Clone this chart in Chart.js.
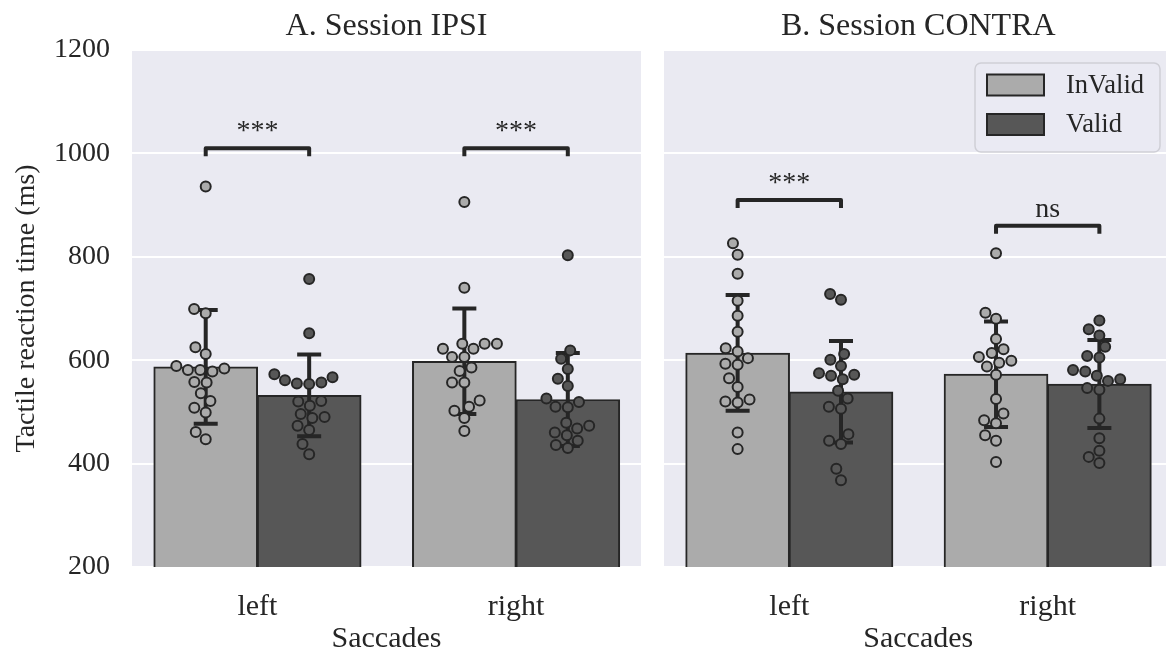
<!DOCTYPE html>
<html>
<head>
<meta charset="utf-8">
<title>Tactile reaction time</title>
<script src="https://cdn.jsdelivr.net/npm/chart.js@4.4.1/dist/chart.umd.min.js"></script>
<style>
    html, body { margin: 0; padding: 0; background: #fff; overflow: hidden; width: 1166px; height: 657px; }
    #wrapIpsi   { position: absolute; left: 0;     top: 0; width: 650px; height: 657px; }
    #wrapContra { position: absolute; left: 655px; top: 0; width: 525px; height: 657px; }
</style>
</head>
<body>
<div id="wrapIpsi"><canvas id="ipsiChart" width="650" height="657"></canvas></div>
<div id="wrapContra"><canvas id="contraChart" width="525" height="657"></canvas></div>
<script>
// ---- data ----
const categories = ['left', 'right'];
const hueNames   = ['InValid', 'Valid'];
const yTicks     = [200, 400, 600, 800, 1000, 1200];

// Session IPSI: bar means and SD per saccade side
const ipsiMeanInvalid = [587, 598];
const ipsiMeanValid   = [532, 524];
const ipsiSdInvalid   = [110, 102];
const ipsiSdValid     = [79, 90];

// individual subjects
const ipsiLeftInvalid  = [936, 699, 691, 625, 612, 589, 581, 578, 581, 584, 558, 557, 536, 521, 508, 499, 461, 447];
const ipsiLeftValid    = [757, 652, 573, 561, 555, 554, 557, 567, 520, 512, 521, 496, 488, 490, 473, 465, 438, 418];
const ipsiRightInvalid = [906, 740, 632, 632, 632, 622, 622, 606, 606, 579, 586, 557, 557, 522, 502, 510, 488, 463];
const ipsiRightValid   = [803, 619, 603, 583, 564, 550, 526, 510, 509, 519, 479, 468, 473, 460, 455, 444, 436, 430];

// Session CONTRA
const contraMeanInvalid = [614, 573];
const contraMeanValid   = [539, 554];
const contraSdInvalid   = [112, 102];
const contraSdValid     = [98, 85];

const contraLeftInvalid  = [826, 804, 767, 715, 686, 655, 623, 617, 604, 593, 591, 565, 548, 520, 518, 524, 460, 428];
const contraLeftValid    = [728, 717, 612, 601, 589, 570, 563, 572, 575, 541, 526, 510, 506, 457, 444, 438, 390, 368];
const contraRightInvalid = [807, 692, 680, 641, 621, 614, 606, 599, 595, 588, 572, 525, 497, 484, 478, 455, 444, 403];
const contraRightValid   = [677, 660, 648, 626, 608, 605, 581, 570, 563, 560, 546, 543, 578, 487, 449, 425, 413, 401];

// significance brackets: category, bracket height (ms), label
const ipsiSigCat     = [0, 1];
const ipsiSigY       = [1010, 1010];
const ipsiSigLabel   = ['***', '***'];
const contraSigCat   = [0, 1];
const contraSigY     = [910, 860];
const contraSigLabel = ['***', 'ns'];

// ---- styles ----
const FONT   = "'Liberation Serif', 'Times New Roman', serif";
const INK    = '#262626';
const BG     = '#eaeaf2';
const hueFill   = ['#ababab', '#575757'];
const hueOffset = [-0.2, 0.2];
const X_MIN = -0.485, X_MAX = 1.483;

// panel background (seaborn darkgrid)
const panelBg = {
    id: 'panelBg',
    beforeDraw(chart) {
        const { ctx, chartArea: a } = chart;
        ctx.save();
        ctx.fillStyle = BG;
        ctx.fillRect(a.left, a.top, a.right - a.left, a.bottom - a.top);
        ctx.restore();
    }
};

// error bars go between bars and dots
const errorBars = {
    id: 'errorBars',
    beforeDatasetsDraw(chart) { chart.$errDone = false; },
    beforeDatasetDraw(chart, args) {
        if (chart.$errDone || args.meta.type !== 'scatter') return;
        chart.$errDone = true;
        const p = chart.options.plugins.errorBars;
        const { ctx, scales: { x, y } } = chart;
        ctx.save();
        ctx.strokeStyle = INK;
        ctx.lineWidth = 4;
        p.means.forEach((means, h) => {
            means.forEach((m, c) => {
                const px = x.getPixelForValue(c + hueOffset[h]);
                const top = y.getPixelForValue(m + p.sds[h][c]);
                const bot = y.getPixelForValue(m - p.sds[h][c]);
                ctx.beginPath();
                ctx.moveTo(px, top); ctx.lineTo(px, bot);
                ctx.moveTo(px - 12, top); ctx.lineTo(px + 12, top);
                ctx.moveTo(px - 12, bot); ctx.lineTo(px + 12, bot);
                ctx.stroke();
            });
        });
        ctx.restore();
    }
};

const sigBrackets = {
    id: 'sigBrackets',
    afterDatasetsDraw(chart) {
        const p = chart.options.plugins.sigBrackets;
        const { ctx, scales: { x, y } } = chart;
        ctx.save();
        ctx.strokeStyle = INK;
        ctx.fillStyle = INK;
        ctx.lineWidth = 4;
        ctx.lineJoin = 'round';
        ctx.font = '28px ' + FONT;
        ctx.textAlign = 'center';
        ctx.textBaseline = 'alphabetic';
        p.cats.forEach((c, i) => {
            const x0 = x.getPixelForValue(c + hueOffset[0]);
            const x1 = x.getPixelForValue(c + hueOffset[1]);
            const yy = y.getPixelForValue(p.ys[i]);
            ctx.beginPath();
            ctx.moveTo(x0, yy + 8); ctx.lineTo(x0, yy); ctx.lineTo(x1, yy); ctx.lineTo(x1, yy + 8);
            ctx.stroke();
            ctx.fillText(p.labels[i], (x0 + x1) / 2, yy - 9);
        });
        ctx.restore();
    }
};

const panelTitle = {
    id: 'panelTitle',
    afterDraw(chart) {
        const { ctx, chartArea: a } = chart;
        ctx.save();
        ctx.fillStyle = INK;
        ctx.font = '32px ' + FONT;
        ctx.textAlign = 'center';
        ctx.textBaseline = 'alphabetic';
        ctx.fillText(chart.options.plugins.panelTitle.text, (a.left + a.right) / 2, 35);
        ctx.restore();
    }
};

const boxLegend = {
    id: 'boxLegend',
    afterDraw(chart) {
        if (!chart.options.plugins.boxLegend.show) return;
        const { ctx, chartArea: a } = chart;
        const w = 185, h = 89;
        const bx = a.right - 12.5 - w, by = a.top + 13;
        ctx.save();
        ctx.beginPath();
        ctx.roundRect(bx, by, w, h, 6);
        ctx.fillStyle = 'rgba(234,234,242,0.8)';
        ctx.fill();
        ctx.strokeStyle = '#cfcfd6';
        ctx.lineWidth = 1.5;
        ctx.stroke();
        ctx.font = '26.5px ' + FONT;
        ctx.textBaseline = 'middle';
        ctx.textAlign = 'left';
        hueNames.forEach((name, i) => {
            const cy = by + 22 + i * 39.5;
            ctx.fillStyle = hueFill[i];
            ctx.fillRect(bx + 12, cy - 10.5, 57, 21);
            ctx.strokeStyle = INK;
            ctx.lineWidth = 2;
            ctx.strokeRect(bx + 12, cy - 10.5, 57, 21);
            ctx.fillStyle = INK;
            ctx.fillText(name, bx + 91, cy + 1);
        });
        ctx.restore();
    }
};

// seaborn-like beeswarm: place from the lowest value up, nearest free slot to the midline
function swarmOffsets(pixYs, d) {
    const order = pixYs.map((_, i) => i).sort((a, b) => pixYs[b] - pixYs[a]);
    const placed = [];
    const out = new Array(pixYs.length).fill(0);
    order.forEach(idx => {
        const yy = pixYs[idx];
        const nb = placed.filter(p => Math.abs(p.y - yy) < d);
        const cands = [0];
        nb.forEach(p => { const dx = Math.sqrt(d * d - (yy - p.y) ** 2); cands.push(p.x - dx); });
        nb.forEach(p => { const dx = Math.sqrt(d * d - (yy - p.y) ** 2); cands.push(p.x + dx); });
        cands.sort((a, b) => Math.abs(a) - Math.abs(b));
        const pick = cands.find(c => nb.every(p => (c - p.x) ** 2 + (yy - p.y) ** 2 >= d * d - 0.01));
        out[idx] = pick;
        placed.push({ x: pick, y: yy });
    });
    return out;
}

function makePanel(canvasId, cfg) {
    const barSets = cfg.means.map((means, h) => ({
        type: 'bar',
        label: hueNames[h],
        data: means.map((m, c) => ({ x: c + hueOffset[h], y: m })),
        backgroundColor: hueFill[h],
        borderColor: INK,
        borderWidth: 2,
        borderSkipped: false,
        barThickness: 104,
        grouped: false,
        order: 2
    }));
    const dotSets = cfg.points.map((byCat, h) => ({
        type: 'scatter',
        label: hueNames[h] + ' subjects',
        data: [],
        backgroundColor: hueFill[h],
        borderColor: INK,
        borderWidth: 2,
        pointRadius: 5,
        pointHoverRadius: 5,
        order: 1
    }));

    const chart = new Chart(document.getElementById(canvasId), {
        type: 'scatter',
        data: { datasets: [...barSets, ...dotSets] },
        options: {
            responsive: false,
            animation: false,
            layout: { padding: { top: 50, right: cfg.padRight, bottom: 0, left: 0 } },
            scales: {
                x: {
                    type: 'linear',
                    min: X_MIN, max: X_MAX,
                    offset: false,
                    grid: { display: false },
                    border: { display: false },
                    afterBuildTicks: s => { s.ticks = categories.map((_, i) => ({ value: i })); },
                    afterFit: s => { s.height = 90; },
                    ticks: {
                        autoSkip: false, maxRotation: 0,
                        padding: 14,
                        color: INK,
                        font: { family: FONT, size: 30 },
                        callback: v => categories[v] ?? ''
                    },
                    title: {
                        display: true, text: 'Saccades', color: INK,
                        font: { family: FONT, size: 30 },
                        padding: { top: 0, bottom: 0 }
                    }
                },
                y: {
                    min: 200, max: 1200,
                    afterBuildTicks: s => { s.ticks = yTicks.map(v => ({ value: v })); },
                    afterFit: s => { s.width = cfg.yWidth; },
                    grid: { color: '#ffffff', lineWidth: 2, drawTicks: false },
                    border: { display: false },
                    ticks: {
                        display: cfg.showY,
                        padding: 22,
                        color: INK,
                        font: { family: FONT, size: 28 },
                        callback: v => String(v)
                    },
                    title: {
                        display: cfg.showY, text: 'Tactile reaction time (ms)', color: INK,
                        font: { family: FONT, size: 28 },
                        padding: { top: 10, bottom: 0 }
                    }
                }
            },
            plugins: {
                legend: { display: false },
                tooltip: { enabled: false },
                errorBars: { means: cfg.means, sds: cfg.sds },
                sigBrackets: { cats: cfg.sigCat, ys: cfg.sigY, labels: cfg.sigLabel },
                panelTitle: { text: cfg.title },
                boxLegend: { show: cfg.legend }
            }
        },
        plugins: [panelBg, errorBars, sigBrackets, panelTitle, boxLegend]
    });

    // lay the dots out as a swarm using the chart's own scales
    const xs = chart.scales.x, ys = chart.scales.y;
    const pxPerUnit = xs.getPixelForValue(1) - xs.getPixelForValue(0);
    cfg.points.forEach((byCat, h) => {
        const pts = [];
        byCat.forEach((vals, c) => {
            const offs = swarmOffsets(vals.map(v => ys.getPixelForValue(v)), 12.3);
            vals.forEach((v, i) => pts.push({ x: c + hueOffset[h] + offs[i] / pxPerUnit, y: v }));
        });
        chart.data.datasets[barSets.length + h].data = pts;
    });
    chart.update('none');
    return chart;
}

makePanel('ipsiChart', {
    title: 'A. Session IPSI',
    means: [ipsiMeanInvalid, ipsiMeanValid],
    sds: [ipsiSdInvalid, ipsiSdValid],
    points: [[ipsiLeftInvalid, ipsiRightInvalid], [ipsiLeftValid, ipsiRightValid]],
    sigCat: ipsiSigCat, sigY: ipsiSigY, sigLabel: ipsiSigLabel,
    showY: true, yWidth: 132, padRight: 9, legend: false
});

makePanel('contraChart', {
    title: 'B. Session CONTRA',
    means: [contraMeanInvalid, contraMeanValid],
    sds: [contraSdInvalid, contraSdValid],
    points: [[contraLeftInvalid, contraRightInvalid], [contraLeftValid, contraRightValid]],
    sigCat: contraSigCat, sigY: contraSigY, sigLabel: contraSigLabel,
    showY: false, yWidth: 9, padRight: 7.5, legend: true
});
</script>
</body>
</html>
